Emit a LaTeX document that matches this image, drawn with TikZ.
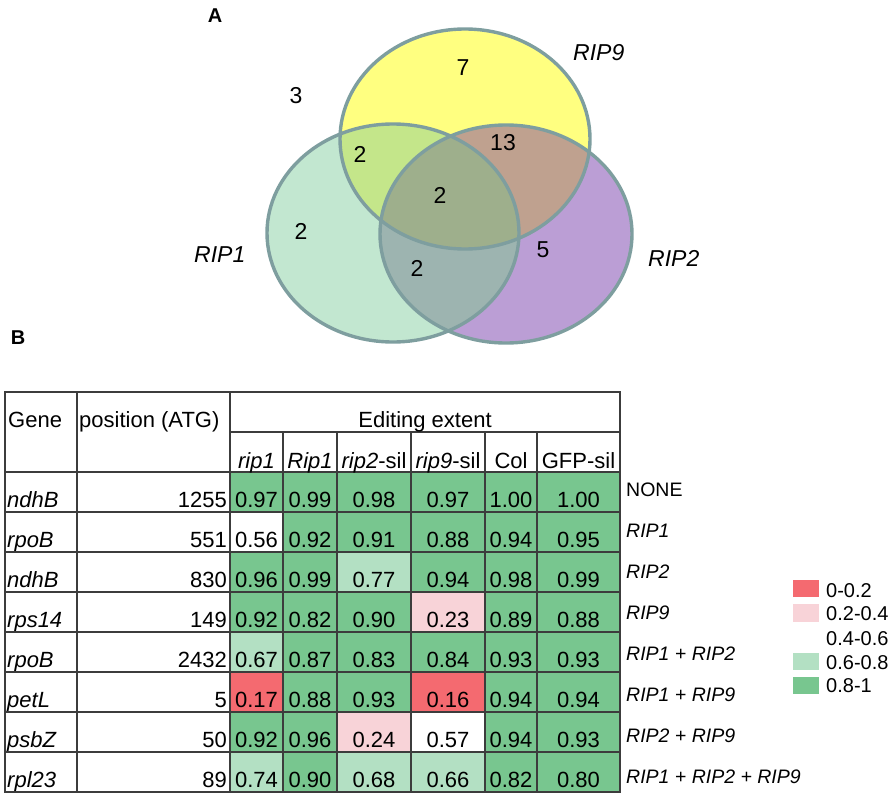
\documentclass[tikz,border=0pt]{standalone}
\usepackage{fontspec}
\setmainfont{Liberation Sans}
\definecolor{vY}{HTML}{FFFF80}
\definecolor{vG}{HTML}{C2E7D0}
\definecolor{vP}{HTML}{BB9ED5}
\definecolor{vYG}{HTML}{C4E68A}
\definecolor{vYP}{HTML}{BFA18F}
\definecolor{vGP}{HTML}{9DB4B0}
\definecolor{vT}{HTML}{9EAF8C}
\definecolor{vE}{HTML}{7E9E9F}
\definecolor{cD}{HTML}{78C68F}
\definecolor{cL}{HTML}{B3E0C3}
\definecolor{cR}{HTML}{F46A70}
\definecolor{cP}{HTML}{F8D3D8}
\definecolor{cW}{HTML}{FFFFFF}
\definecolor{gridc}{HTML}{3C3C3C}
\tikzset{
  vnum/.style={font=\fontsize{23}{27}\selectfont, inner sep=0pt},
  vlab/.style={font=\fontsize{23}{27}\selectfont\itshape, inner sep=0pt, anchor=west},
  panel/.style={font=\fontsize{20}{24}\selectfont\bfseries, inner sep=0pt},
  tx/.style={font=\fontsize{22}{26}\selectfont, inner sep=0pt},
  rtx/.style={font=\fontsize{19.5}{23}\selectfont, inner sep=0pt, anchor=base west},
  lg/.style={font=\fontsize{20}{24}\selectfont, inner sep=0pt, anchor=base west},
  gridline/.style={draw=gridc, line width=1.2pt},
  vedge/.style={draw=vE, line width=3.4pt},
}
\begin{document}
\begin{tikzpicture}[x=1pt,y=-1pt]
\useasboundingbox (0,0) rectangle (893,800);

% ---------- Panel A: Venn ----------
\fill[vG] (393,233) ellipse [x radius=126pt, y radius=109pt];
\fill[vP] (506,234) ellipse [x radius=126pt, y radius=109pt];
\fill[vY] (465,139) ellipse [x radius=125pt, y radius=110pt];
\begin{scope}
  \clip (465,139) ellipse [x radius=125pt, y radius=110pt];
  \fill[vYG] (393,233) ellipse [x radius=126pt, y radius=109pt];
  \fill[vYP] (506,234) ellipse [x radius=126pt, y radius=109pt];
\end{scope}
\begin{scope}
  \clip (393,233) ellipse [x radius=126pt, y radius=109pt];
  \fill[vGP] (506,234) ellipse [x radius=126pt, y radius=109pt];
\end{scope}
\begin{scope}
  \clip (465,139) ellipse [x radius=125pt, y radius=110pt];
  \clip (393,233) ellipse [x radius=126pt, y radius=109pt];
  \fill[vT] (506,234) ellipse [x radius=126pt, y radius=109pt];
\end{scope}
\draw[vedge] (465,139) ellipse [x radius=125pt, y radius=110pt];
\draw[vedge] (393,233) ellipse [x radius=126pt, y radius=109pt];
\draw[vedge] (506,234) ellipse [x radius=126pt, y radius=109pt];

\node[panel] (pA) at (215,16) {A};
\node[vnum] (n3) at (296,96) {3};
\node[vnum] (n7) at (463,68) {7};
\node[vnum] (nYG) at (360,154) {2};
\node[vnum] (nYP) at (503,143) {13};
\node[vnum] (nT) at (440,195) {2};
\node[vnum] (nG) at (301,231) {2};
\node[vnum] (nGP) at (417,268) {2};
\node[vnum] (nP) at (543,250) {5};
\node[vlab] (l9) at (573,53) {RIP9};
\node[vlab] (l1) at (194,255) {RIP1};
\node[vlab] (l2) at (648,258) {RIP2};

% ---------- Panel B: table ----------
\node[panel] (pB) at (18,338) {B};

\foreach \ri/\gn/\pn/\vals in {
 1/ndhB/1255/{cD/0.97,cD/0.99,cD/0.98,cD/0.97,cD/1.00,cD/1.00},
 2/rpoB/551/{cW/0.56,cD/0.92,cD/0.91,cD/0.88,cD/0.94,cD/0.95},
 3/ndhB/830/{cD/0.96,cD/0.99,cL/0.77,cD/0.94,cD/0.98,cD/0.99},
 4/rps14/149/{cD/0.92,cD/0.82,cD/0.90,cP/0.23,cD/0.89,cD/0.88},
 5/rpoB/2432/{cL/0.67,cD/0.87,cD/0.83,cD/0.84,cD/0.93,cD/0.93},
 6/petL/5/{cR/0.17,cD/0.88,cD/0.93,cR/0.16,cD/0.94,cD/0.94},
 7/psbZ/50/{cD/0.92,cD/0.96,cP/0.24,cW/0.57,cD/0.94,cD/0.93},
 8/rpl23/89/{cL/0.74,cD/0.90,cL/0.68,cL/0.66,cD/0.82,cD/0.80}}
{
  \pgfmathsetmacro\yb{472+40*\ri}
  \pgfmathsetmacro\yt{\yb-40}
  \foreach \cc/\val [count=\k] in \vals {
    \pgfmathsetmacro\xa{{230,283,337,411,485,537,620}[\k-1]}
    \pgfmathsetmacro\xb{{230,283,337,411,485,537,620}[\k]}
    \fill[\cc] (\xa,\yt) rectangle (\xb,\yb);
    \node[tx,anchor=base] (v\ri-\k) at ({(\xa+\xb)/2},\yb-4.5) {\val};
  }
  \node[tx,anchor=base west] (g\ri) at (7,\yb-4.5) {\textit{\gn}};
  \node[tx,anchor=base east] (p\ri) at (227,\yb-4.5) {\pn};
}

% grid
\draw[gridline] (5,392) rectangle (620,792);
\foreach \xx in {77,230} \draw[gridline] (\xx,392) -- (\xx,792);
\foreach \xx in {283,337,411,485,537} \draw[gridline] (\xx,432) -- (\xx,792);
\draw[gridline] (230,432) -- (620,432);
\foreach \yy in {472,512,552,592,632,672,712,752} \draw[gridline] (5,\yy) -- (620,\yy);

% headers
\node[tx,anchor=base west] (hgene) at (8,427) {Gene};
\node[tx,anchor=base west] (hpos) at (79,427) {position (ATG)};
\node[tx,anchor=base] (hedit) at (425,427) {Editing extent};
\node[tx,anchor=base] (s1) at (256.5,468) {\textit{rip1}};
\node[tx,anchor=base] (s2) at (310,468) {\textit{Rip1}};
\node[tx,anchor=base] (s3) at (374,468) {\textit{rip2}-sil};
\node[tx,anchor=base] (s4) at (448,468) {\textit{rip9}-sil};
\node[tx,anchor=base] (s5) at (511,468) {Col};
\node[tx,anchor=base] (s6) at (578.5,468) {GFP-sil};

% right labels
\foreach \lbl [count=\k] in {NONE, \textit{RIP1}, \textit{RIP2}, \textit{RIP9}, \textit{RIP1 + RIP2}, \textit{RIP1 + RIP9}, \textit{RIP2 + RIP9}, \textit{RIP1 + RIP2 + RIP9}}
  \node[rtx] (r\k) at (626,{455+41*\k}) {\lbl};

% legend
\fill[cR] (793,580) rectangle (819,597);
\fill[cP] (793,604) rectangle (819,622);
\fill[cL] (793,653) rectangle (819,670);
\fill[cD] (793,677) rectangle (819,694);
\node[lg] (k1) at (826,597) {0-0.2};
\node[lg] (k2) at (826,620) {0.2-0.4};
\node[lg] (k3) at (826,645) {0.4-0.6};
\node[lg] (k4) at (826,669) {0.6-0.8};
\node[lg] (k5) at (826,692) {0.8-1};
\end{tikzpicture}
\end{document}
